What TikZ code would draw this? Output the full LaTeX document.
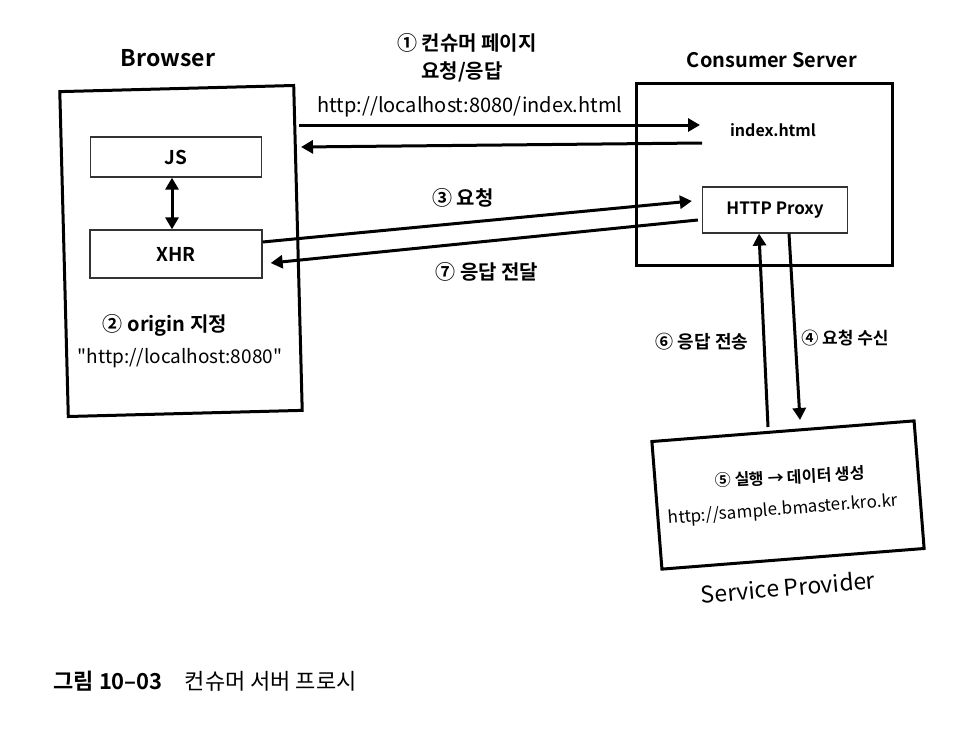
\documentclass[tikz,border=0pt]{standalone}
\usepackage{fontspec}
\setmainfont{Noto Sans CJK KR}[BoldFont={Noto Sans CJK KR Bold}]
\newfontfamily\plainfont{Noto Sans CJK KR}
\usetikzlibrary{arrows.meta}

\begin{document}
\begin{tikzpicture}[x=1pt,y=-1pt,
  box/.style={draw,line width=3pt,inner sep=0pt},
  part/.style={draw=black!80,line width=1.3pt,inner sep=0pt,font=\fontsize{19}{22}\bfseries\selectfont},
  arr/.style={line width=3pt,-{Triangle[length=12pt,width=13pt]}},
  title/.style={font=\fontsize{23}{26}\bfseries\selectfont},
  note/.style={font=\fontsize{20}{22}\bfseries\selectfont},
  url/.style={font=\fontsize{20}{22}\selectfont}]

\useasboundingbox (0,0) rectangle (960,736);

% Browser
\node[box,minimum width=234pt,minimum height=325pt,rotate=1.5] (browser) at (181,251) {};
\node[title] (browsertitle) at (168,58) {Browser};
\node[part,minimum width=171pt,minimum height=40pt] (js) at (176,157) {JS};
\node[part,minimum width=172pt,minimum height=48pt] (xhr) at (176,254) {XHR};
\draw[line width=3pt,{Triangle[length=12pt,width=13pt]}-{Triangle[length=12pt,width=13pt]}]
  ([xshift=-4pt]js.south) -- ([xshift=-4pt]xhr.north);
\node[note] (origin) at (165,325) {② origin 지정};
\node[font=\fontsize{19}{22}\plainfont] (originurl) at (180,358) {"http://localhost:8080"};

% Consumer server
\node[box,minimum width=256pt,minimum height=182pt] (consumer) at (764,174) {};
\node[title,font=\fontsize{20}{24}\bfseries\selectfont] (consumertitle) at (772,60) {Consumer Server};
\node[font=\fontsize{16}{20}\bfseries\selectfont] (index) at (773,130) {index.html};
\node[part,font=\fontsize{17}{20}\bfseries\selectfont,minimum width=145pt,minimum height=46pt] (proxy) at (775,210) {HTTP Proxy};

% Service provider
\node[box,minimum width=263pt,minimum height=128pt,rotate=4.5] (provider) at (788,495) {};
\node[font=\fontsize{23}{26}\selectfont,rotate=5] (providertitle) at (788,587) {Service Provider};
\node[note,font=\fontsize{16}{20}\bfseries\selectfont,rotate=3] (run) at (790,477) {⑤ 실행 → 데이터 생성};
\node[url,font=\fontsize{17}{20}\selectfont,rotate=4.5] (sampleurl) at (783,510) {http://sample.bmaster.kro.kr};

% Page request / response
\coordinate (idxin) at (700,125);
\coordinate (idxout) at (702,143);
\coordinate (pageback) at (301,147);
\draw[arr] (browser.east |- idxin) -- (idxin);
\draw[arr] (idxout) -- (pageback);
\node[note] (step1) at (467,43) {① 컨슈머 페이지};
\node[note] (step1b) at (462,72) {요청/응답};
\node[url] (pageurl) at (470,107) {http://localhost:8080/index.html};

% XHR to proxy and back
\draw[arr] ([yshift=12pt]xhr.east) -- ([xshift=-10pt,yshift=9pt]proxy.west);
\draw[arr] ([xshift=-4pt,yshift=-10pt]proxy.west) -- ([xshift=8pt,yshift=-9pt]xhr.east);
\node[note] (step3) at (463,198) {③ 요청};
\node[note] (step7) at (487,272) {⑦ 응답 전달};

% Proxy to provider and back
\coordinate (resp) at (768,427);
\coordinate (recv) at (800,420);
\draw[arr] (resp) -- ([xshift=-16pt]proxy.south);
\draw[arr] ([xshift=14pt]proxy.south) -- (recv);
\node[note,font=\fontsize{18}{20}\bfseries\selectfont] (step6) at (702,342) {⑥ 응답 전송};
\node[note,font=\fontsize{17}{20}\bfseries\selectfont] (step4) at (845,338) {④ 요청 수신};

% Caption
\node[anchor=west,font=\fontsize{22}{24}\selectfont] (caption) at (50,681) {\textbf{그림 10--03}\quad 컨슈머 서버 프로시};
\end{tikzpicture}
\end{document}
